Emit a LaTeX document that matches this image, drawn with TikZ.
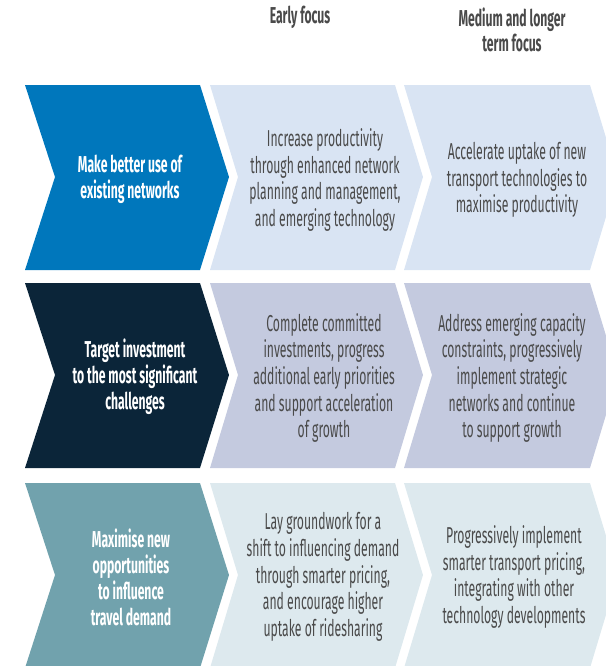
\documentclass[tikz,border=0pt]{standalone}
\usepackage{fontspec}
\setmainfont[FakeStretch=0.53]{Fira Sans}
\usepackage{xcolor}
\usepackage{tikz}
\usetikzlibrary{positioning}
\definecolor{leadA}{HTML}{0077BC}
\definecolor{leadB}{HTML}{0B2539}
\definecolor{leadC}{HTML}{71A2AD}
\definecolor{cellA}{HTML}{D9E4F3}
\definecolor{cellB}{HTML}{C4CADF}
\definecolor{cellC}{HTML}{DDE9EE}
\definecolor{inkgray}{HTML}{4A4A4A}

\begin{document}
\begin{tikzpicture}[
    x=0.5pt, y=-0.5pt,
    headtext/.style={align=center, text=inkgray, font=\fontsize{11.5}{12.5}\selectfont\bfseries},
    leadtext/.style={align=center, text=white, font=\fontsize{11.5}{13}\selectfont\bfseries},
    celltext/.style={align=center, text=inkgray, font=\fontsize{11.5}{13.3}\selectfont},
]
    \useasboundingbox (0,0) rectangle (606,666);
    \clip (0,0) rectangle (606,666);
    % chevron rows
    \foreach \top/\lead/\cell in {85/leadA/cellA, 283/leadB/cellB, 483/leadC/cellC} {
        \fill[\lead] (25,\top) -- (200,\top) -- (229,\top+92) -- (200,\top+185) -- (25,\top+185) -- (55,\top+92) -- cycle;
        \fill[\cell] (210,\top) -- (395,\top) -- (423,\top+92) -- (395,\top+185) -- (210,\top+185) -- (238,\top+92) -- cycle;
        \fill[\cell] (404,\top) -- (590,\top) -- (618,\top+92) -- (590,\top+185) -- (404,\top+185) -- (432,\top+92) -- cycle;
    }
    % column headings
    \node[headtext] (early) at (300,17) {Early focus};
    \node[headtext] (later) at (512,30) {Medium and longer\\term focus};
    % row texts
    \node[leadtext] (leadA) at (130,179) {Make better use of\\existing networks};
    \node[celltext] (earlyA) at (325,180) {Increase productivity\\through enhanced network\\planning and management,\\and emerging technology};
    \node[celltext] (laterA) at (517,180) {Accelerate uptake of new\\transport technologies to\\maximise productivity};
    \node[leadtext] (leadB) at (135,377) {Target investment\\to the most significant\\challenges};
    \node[celltext] (earlyB) at (324,378) {Complete committed\\investments, progress\\additional early priorities\\and support acceleration\\of growth};
    \node[celltext] (laterB) at (512,378) {Address emerging capacity\\constraints, progressively\\implement strategic\\networks and continue\\to support growth};
    \node[leadtext] (leadC) at (131,577) {Maximise new\\opportunities\\to influence\\travel demand};
    \node[celltext] (earlyC) at (323,577) {Lay groundwork for a\\shift to influencing demand\\through smarter pricing,\\and encourage higher\\uptake of ridesharing};
    \node[celltext] (laterC) at (514,577) {Progressively implement\\smarter transport pricing,\\integrating with other\\technology developments};
\end{tikzpicture}
\end{document}
